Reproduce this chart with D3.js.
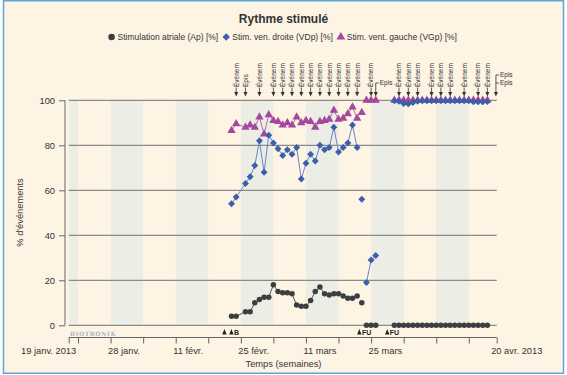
<!DOCTYPE html>
<html>
<head>
    <meta charset="utf-8">
    <script src="https://cdn.jsdelivr.net/npm/d3@7"></script>
    <style>
        body { margin: 0; background: #fff; }
        text { font-family: "Liberation Sans", Arial, sans-serif; fill: #333; }
    </style>
</head>

<body>
<div id="chart"></div>

<script>

    // daily readings
    var dates = ["2013-02-23", "2013-02-24", "2013-02-26", "2013-02-27", "2013-02-28", "2013-03-01", "2013-03-02",
        "2013-03-03", "2013-03-04", "2013-03-05", "2013-03-06", "2013-03-07", "2013-03-08", "2013-03-09", "2013-03-10",
        "2013-03-11", "2013-03-12", "2013-03-13", "2013-03-14", "2013-03-15", "2013-03-16", "2013-03-17", "2013-03-18",
        "2013-03-19", "2013-03-20", "2013-03-21", "2013-03-22", "2013-03-23",
        "2013-03-24", "2013-03-25", "2013-03-26",
        "2013-03-30", "2013-03-31", "2013-04-01", "2013-04-02", "2013-04-03", "2013-04-04", "2013-04-05", "2013-04-06",
        "2013-04-07", "2013-04-08", "2013-04-09", "2013-04-10", "2013-04-11", "2013-04-12", "2013-04-13", "2013-04-14",
        "2013-04-15", "2013-04-16", "2013-04-17", "2013-04-18", "2013-04-19"];

    // a new line piece starts at each of these dates
    var segmentStarts = ["2013-02-23", "2013-03-23", "2013-03-24", "2013-03-30"];

    var apValues = [4, 4, 6, 6, 10, 11.5, 12.5, 12.5, 18, 15, 14.5, 14.5, 14, 9, 8.5, 8.5, 11, 15, 17, 14, 13.5, 14, 14,
        13, 12, 12, 13, 10,
        0, 0, 0,
        0, 0, 0, 0, 0, 0, 0, 0, 0, 0, 0, 0, 0, 0, 0, 0, 0, 0, 0, 0, 0];

    var vdpValues = [54, 57, 63, 66, 71, 82, 68, 84.5, 81, 78.5, 75.5, 78, 76, 79, 65, 72, 76, 73, 80, 78, 79, 88, 77,
        79, 81, 89, 79, 56,
        19, 29, 31,
        99.8, 99.6, 98.6, 98.4, 99, 99.6, 99.8, 99.8, 99.8, 99.8, 99.8, 99.8, 99.8, 99.8, 99.8, 99.8, 99.8, 99.3, 99.3,
        99.3, 99.5];

    var vgpValues = [86.5, 89.5, 88, 89, 88, 92.5, 85, 93.5, 91, 90.5, 89, 90, 89, 92.5, 90, 91, 90.5, 88, 90.5, 91,
        91.5, 95.5, 91.5, 92, 94, 97, 92, 94.5,
        100, 100, 100,
        100, 100, 100, 100, 100, 100, 100, 100, 100, 100, 100, 100, 100, 100, 100, 100, 100, 100, 100, 100, 100];

    var seriesNames = ["Stimulation atriale (Ap) [%]", "Stim. ven. droite (VDp) [%]", "Stim. vent. gauche (VGp) [%]"];

    var eventDates = ["2013-02-24", "2013-03-01", "2013-03-04", "2013-03-06", "2013-03-08", "2013-03-10", "2013-03-12",
        "2013-03-14", "2013-03-16", "2013-03-18", "2013-03-20", "2013-03-22", "2013-03-25", "2013-03-31", "2013-04-02",
        "2013-04-04", "2013-04-07", "2013-04-09", "2013-04-11", "2013-04-14", "2013-04-17", "2013-04-19"];
    var episDates = ["2013-02-26", "2013-03-26", "2013-04-20 20:00"];
    var episCounts = [1, 1, 2];

    var followDates = ["2013-02-21", "2013-02-22 12:00", "2013-03-22", "2013-03-28"];
    var followLabels = ["", "B", "FU", "FU"];

    var tickDates = ["2013-01-19", "2013-01-21", "2013-01-28", "2013-02-04", "2013-02-11", "2013-02-18", "2013-02-25",
        "2013-03-04", "2013-03-11", "2013-03-18", "2013-03-25", "2013-04-01", "2013-04-08", "2013-04-15", "2013-04-21"];
    var tickLabels = ["19 janv. 2013", "", "28 janv.", "", "11 févr.", "", "25 févr.", "", "11 mars", "", "25 mars",
        "", "", "", "20 avr. 2013"];
    var yTicks = [0, 20, 40, 60, 80, 100];

    var p1 = d3.timeParse("%Y-%m-%d"), p2 = d3.timeParse("%Y-%m-%d %H:%M");
    function pd(s) { return p2(s) || p1(s); }

    var width = 567, height = 375;
    var plot = { left: 68.7, right: 496.7, top: 100.3, bottom: 325.3 };

    var x = d3.scaleTime()
        .domain([pd("2013-01-19"), pd("2013-04-21")])
        .range([plot.left, plot.right]);

    var y = d3.scaleLinear()
        .domain([0, 100])
        .range([plot.bottom, plot.top]);

    var svg = d3.select('#chart').append('svg')
        .attr('width', width)
        .attr('height', height);

    svg.append('rect')
        .attr('x', 3.5).attr('y', 0.75)
        .attr('width', 560).attr('height', 372.5)
        .attr('fill', '#fdf4e4')
        .attr('stroke', '#5aa8d8')
        .attr('stroke-width', 1.5);

    // alternate week bands
    var mondays = d3.timeMonday.range(new Date(2013, 0, 14), new Date(2013, 3, 22));
    svg.append('g').selectAll('rect')
        .data(mondays.filter(function(d, i) { return i % 2 === 0; }))
        .enter().append('rect')
        .attr('x', function(d) { return Math.max(plot.left, x(d)); })
        .attr('width', function(d) { return Math.min(plot.right, x(d3.timeDay.offset(d, 7))) - Math.max(plot.left, x(d)); })
        .attr('y', plot.top)
        .attr('height', plot.bottom - plot.top)
        .attr('fill', '#eceee5');

    // grid lines
    svg.append('g').selectAll('line')
        .data(yTicks)
        .enter().append('line')
        .attr('x1', plot.left).attr('x2', plot.right)
        .attr('y1', function(d) { return y(d); })
        .attr('y2', function(d) { return y(d); })
        .attr('stroke', '#8a8a8a')
        .attr('stroke-width', 1.2);

    // y axis
    var yAxis = d3.axisLeft(y).tickValues(yTicks).tickSize(6).tickPadding(4);
    var gy = svg.append('g')
        .attr('transform', 'translate(65,0)')
        .call(yAxis);
    gy.select('.domain').attr('d', 'M0,' + plot.top + 'V' + plot.bottom).attr('stroke', '#666');
    gy.selectAll('.tick line').attr('stroke', '#666');
    gy.selectAll('.tick text').style('font-size', '9.3px').style('font-family', '"Liberation Sans", Arial, sans-serif').attr('fill', '#333');

    // x axis
    var tickParsed = tickDates.map(pd);
    var xAxis = d3.axisBottom(x)
        .tickValues(tickParsed)
        .tickSize(6)
        .tickFormat(function(d, i) { return tickLabels[i]; });
    var gx = svg.append('g')
        .attr('transform', 'translate(0,337.5)')
        .call(xAxis);
    gx.select('.domain').attr('d', 'M' + plot.left + ',0H' + plot.right).attr('stroke', '#666');
    gx.selectAll('.tick line').attr('stroke', '#666');
    gx.selectAll('.tick text')
        .style('font-size', '9.3px')
        .style('font-family', '"Liberation Sans", Arial, sans-serif')
        .attr('fill', '#333')
        .attr('y', 10)
        .attr('text-anchor', function(d, i) { return i === 0 ? 'end' : 'start'; })
        .attr('x', function(d, i) { return i === 0 ? 7 : (i === tickDates.length - 1 ? -6 : -3); });

    svg.append('text')
        .attr('x', 70).attr('y', 335.5)
        .style('font-family', '"DejaVu Serif", serif')
        .style('font-size', '6px')
        .style('font-weight', 'bold')
        .style('letter-spacing', '0.55px')
        .attr('fill', '#a9b5c5')
        .style('fill', '#a9b5c5')
        .text('BIOTRONIK');

    // series
    var segStarts = segmentStarts.map(pd);
    function rows(values) {
        return dates.map(function(d, i) {
            var dt = pd(d);
            return { date: dt, v: values[i], seg: d3.bisectRight(segStarts, dt) - 1 };
        });
    }

    var line = d3.line()
        .x(function(d) { return x(d.date); })
        .y(function(d) { return y(d.v); });

    function drawSeries(values, lineColor, pointColor, symbol, rotate) {
        var data = rows(values);
        var g = svg.append('g');
        g.selectAll('path.l')
            .data(d3.groups(data, function(d) { return d.seg; }).map(function(s) { return s[1]; }))
            .enter().append('path')
            .attr('class', 'l')
            .attr('d', line)
            .attr('fill', 'none')
            .attr('stroke', lineColor)
            .attr('stroke-width', 1);
        g.selectAll('path.p')
            .data(data)
            .enter().append('path')
            .attr('class', 'p')
            .attr('d', symbol)
            .attr('transform', function(d) { return 'translate(' + x(d.date) + ',' + y(d.v) + ') rotate(' + rotate + ')'; })
            .attr('fill', pointColor);
    }

    drawSeries(apValues, '#55595c', '#3c3f42', d3.symbol(d3.symbolCircle, 24)(), 0);
    drawSeries(vgpValues, '#b56cb0', '#a4479e', d3.symbol(d3.symbolTriangle, 30)(), 0);
    drawSeries(vdpValues, '#6a83c6', '#3c5eab', d3.symbol(d3.symbolSquare, 24)(), 45);

    // event annotations on top
    var ev = svg.append('g').selectAll('g')
        .data(eventDates.map(pd))
        .enter().append('g')
        .attr('transform', function(d) { return 'translate(' + x(d) + ',0)'; });
    ev.append('text')
        .attr('transform', 'translate(2.4,87) rotate(-90)')
        .style('font-size', '6.5px')
        .text('Événem');
    ev.append('line').attr('y1', 87.5).attr('y2', 93).attr('stroke', '#333').attr('stroke-width', 0.8);
    ev.append('path').attr('d', 'M-2,92L2,92L0,96.5Z').attr('fill', '#333');

    episDates.forEach(function(s, i) {
        var ex = x(pd(s));
        var g = svg.append('g').attr('transform', 'translate(' + ex + ',0)');
        if (i === 0) {
            g.append('text')
                .attr('transform', 'translate(2.4,87) rotate(-90)')
                .style('font-size', '6.5px')
                .text('Epis');
            g.append('line').attr('y1', 87.5).attr('y2', 93).attr('stroke', '#333').attr('stroke-width', 0.8);
        } else {
            var top = 83 - (episCounts[i] - 1) * 8;
            g.append('line').attr('y1', top).attr('y2', 93).attr('stroke', '#333').attr('stroke-width', 0.8);
            d3.range(episCounts[i]).forEach(function(k) {
                var ly = top + k * 8;
                g.append('line').attr('x1', 0).attr('x2', 3).attr('y1', ly).attr('y2', ly)
                    .attr('stroke', '#333').attr('stroke-width', 0.8);
                g.append('text').attr('x', 4).attr('y', ly + 2.3).style('font-size', '6.5px').text('Epis');
            });
        }
        g.append('path').attr('d', 'M-2,92L2,92L0,96.5Z').attr('fill', '#333');
    });

    // follow-up markers under the plot
    var fu = svg.append('g').selectAll('g')
        .data(followDates.map(pd))
        .enter().append('g')
        .attr('transform', function(d) { return 'translate(' + x(d) + ',331.5)'; });
    fu.append('path').attr('d', 'M0,3L2.2,-2.5L4.4,3Z').attr('fill', '#222');
    fu.append('text')
        .attr('x', 4.8).attr('y', 3)
        .style('font-size', '7px')
        .style('font-weight', 'bold')
        .style('fill', '#222')
        .text(function(d, i) { return followLabels[i]; });

    // titles
    svg.append('text')
        .attr('x', 283.5).attr('y', 23)
        .attr('text-anchor', 'middle')
        .style('font-size', '12px')
        .style('font-weight', 'bold')
        .text('Rythme stimulé');

    svg.append('text')
        .attr('x', 283.5).attr('y', 366.5)
        .attr('text-anchor', 'middle')
        .style('font-size', '9.3px')
        .text('Temps (semaines)');

    svg.append('text')
        .attr('transform', 'translate(23,212.5) rotate(-90)')
        .attr('text-anchor', 'middle')
        .style('font-size', '9.3px')
        .text("% d'événements");

    // legend
    var legendSymbols = [
        { d: d3.symbol(d3.symbolCircle, 34)(), fill: '#3c3f42', rot: 0 },
        { d: d3.symbol(d3.symbolSquare, 28)(), fill: '#3c5eab', rot: 45 },
        { d: d3.symbol(d3.symbolTriangle, 34)(), fill: '#a4479e', rot: 0 }
    ];
    var lx = 111.6;
    seriesNames.forEach(function(name, i) {
        svg.append('path')
            .attr('d', legendSymbols[i].d)
            .attr('transform', 'translate(' + lx + ',37) rotate(' + legendSymbols[i].rot + ')')
            .attr('fill', legendSymbols[i].fill);
        var t = svg.append('text')
            .attr('x', lx + 6).attr('y', 40)
            .style('font-size', '8.5px')
            .text(name);
        lx += 6 + t.node().getComputedTextLength() + 8;
    });

</script>
</body>
</html>
